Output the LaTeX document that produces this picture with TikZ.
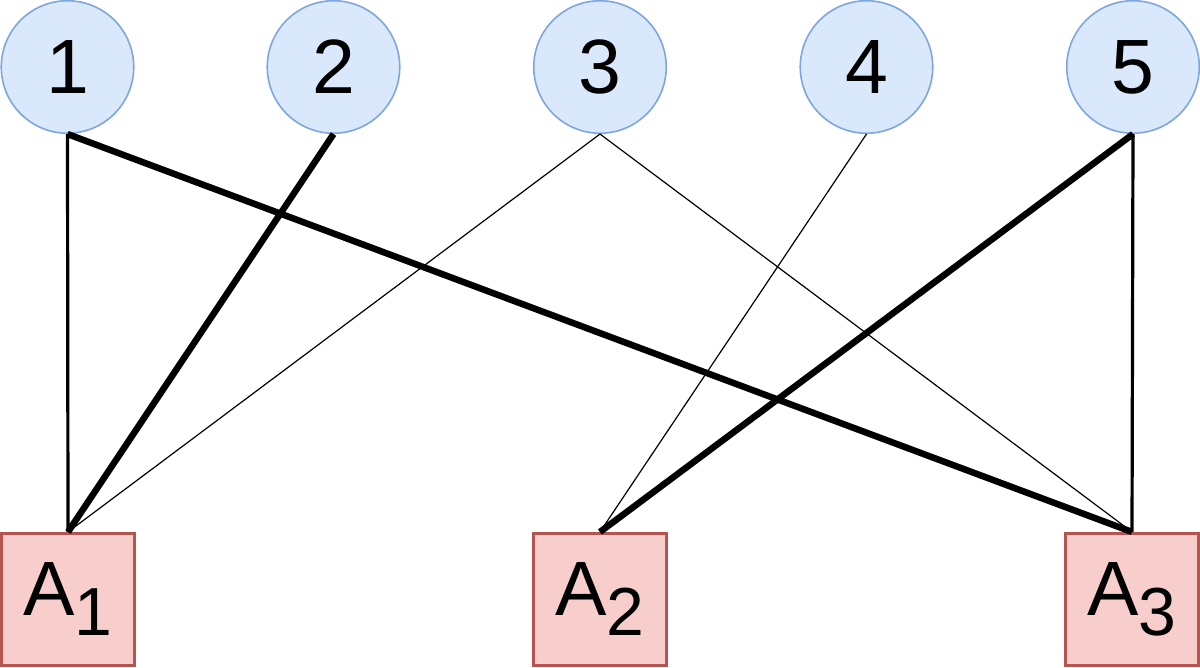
\documentclass[tikz,border=0pt]{standalone}
\usepackage{fontspec}
\setmainfont{Liberation Sans}
\definecolor{elemfill}{HTML}{DAE8FC}
\definecolor{elemline}{HTML}{7EA6E0}
\definecolor{setfill}{HTML}{F8CECC}
\definecolor{setline}{HTML}{B85450}
\newcommand{\setlabel}[1]{A\raisebox{-20pt}{\fontsize{68}{70}\selectfont #1}}
\begin{document}
\begin{tikzpicture}[x=1pt,y=-1pt,
  elem/.style={circle, draw=elemline, fill=elemfill, line width=1.6pt,
    minimum size=132.5pt, inner sep=0pt, font=\fontsize{77}{80}\selectfont},
  setbox/.style={rectangle, draw=setline, fill=setfill, line width=2.6pt,
    minimum size=132.5pt, inner sep=0pt, font=\fontsize{77}{80}\selectfont},
  linkthin/.style={draw=black, line width=1.2pt},
  linkmid/.style={draw=black, line width=3.2pt},
  linkthick/.style={draw=black, line width=6.5pt}
]
\useasboundingbox (0,0) rectangle (1200,668);

% elements
\node[elem] (c1) at (67.5,67) {1};
\node[elem] (c2) at (333.5,67) {2};
\node[elem] (c3) at (600,67) {3};
\node[elem] (c4) at (866.5,67) {4};
\node[elem] (c5) at (1133,67) {5};

% sets
\node[setbox] (a1) at (68,599.5) {\setlabel{1}};
\node[setbox] (a2) at (600,599.5) {\setlabel{2}};
\node[setbox] (a3) at (1132,599.5) {\setlabel{3}};

% memberships
\draw[linkmid]   (c1.south) -- (a1.north);
\draw[linkthick] (c1.south) -- (a3.north);
\draw[linkthick] (c2.south) -- (a1.north);
\draw[linkthin]  (c3.south) -- (a1.north);
\draw[linkthin]  (c3.south) -- (a3.north);
\draw[linkthin]  (c4.south) -- (a2.north);
\draw[linkthick] (c5.south) -- (a2.north);
\draw[linkmid]   (c5.south) -- (a3.north);
\end{tikzpicture}
\end{document}
